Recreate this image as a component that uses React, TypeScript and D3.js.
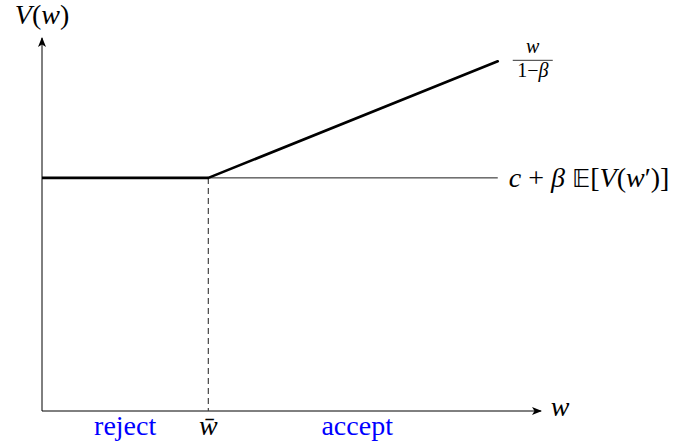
import React from "react";
import * as d3 from "d3";

// Reservation-wage value function: flat at the continuation value, then w/(1-β)
const W_MAX = 3;          // right end of the w axis
const V_MAX = 3.2;        // top of the V axis
const W_BAR = 1;          // reservation wage
const CONT_VALUE = 2;     // c + β E[V(w')]
const W_END = 2.74;       // last wage drawn
const V_END = 3;          // value at the last wage
const regionLabels = [
  { text: "reject", w: 0.5 },
  { text: "accept", w: 1.895 },
];

const WIDTH = 676;
const HEIGHT = 448;
const TIMES = "Liberation Serif, serif";
const FS = 28;

export default function App() {
  const x = d3.scaleLinear().domain([0, W_MAX]).range([42, 541]);
  const y = d3.scaleLinear().domain([0, V_MAX]).range([411, 38]);

  const line = d3
    .line<[number, number]>()
    .x((d) => x(d[0]))
    .y((d) => y(d[1]));

  const flatPart: [number, number][] = [
    [0, CONT_VALUE],
    [W_BAR, CONT_VALUE],
  ];
  const risingPart: [number, number][] = [
    [W_BAR, CONT_VALUE],
    [W_END, V_END],
  ];
  const contLine: [number, number][] = [
    [W_BAR, CONT_VALUE],
    [W_END, CONT_VALUE],
  ];

  const x0 = x(0);
  const y0 = y(0);
  const labelBase = y0 + 24;

  return (
    <svg
      width={WIDTH}
      height={HEIGHT}
      style={{ position: "absolute", left: 0, top: 0, background: "#fff", fontFamily: TIMES }}
    >
      <defs>
        <marker
          id="stealth"
          viewBox="0 0 10 10"
          refX="9"
          refY="5"
          markerWidth="10"
          markerHeight="10"
          markerUnits="userSpaceOnUse"
          orient="auto"
        >
          <path d="M0,1 L10,5 L0,9 L2.5,5 Z" fill="#000" />
        </marker>
      </defs>

      {/* axes */}
      <line
        x1={x0}
        y1={y0}
        x2={x0}
        y2={y(V_MAX)}
        stroke="#000"
        strokeWidth={1}
        markerEnd="url(#stealth)"
      />
      <line
        x1={x0}
        y1={y0}
        x2={x(W_MAX)}
        y2={y0}
        stroke="#000"
        strokeWidth={1}
        markerEnd="url(#stealth)"
      />

      {/* continuation value extended to the right */}
      <path d={line(contLine) ?? ""} fill="none" stroke="#000" strokeWidth={0.9} />

      {/* reservation wage marker */}
      <line
        x1={x(W_BAR)}
        y1={y(CONT_VALUE)}
        x2={x(W_BAR)}
        y2={y0}
        stroke="#444"
        strokeWidth={1.2}
        strokeDasharray="6,4"
      />

      {/* value function */}
      <path d={line(flatPart) ?? ""} fill="none" stroke="#000" strokeWidth={2.6} />
      <path
        d={line(risingPart) ?? ""}
        fill="none"
        stroke="#000"
        strokeWidth={2.6}
        strokeLinecap="round"
      />

      {/* axis labels */}
      <text x={x0} y={24} textAnchor="middle" style={{ fontSize: FS }}>
        <tspan fontStyle="italic">V</tspan>(<tspan fontStyle="italic">w</tspan>)
      </text>
      <text x={x(W_MAX) + 19} y={y0 + 5} textAnchor="middle" fontStyle="italic" style={{ fontSize: FS }}>
        w
      </text>

      {/* w/(1-β) */}
      <g transform={`translate(${x(W_END) + 35},0)`}>
        <text x={0} y={y(V_END) - 8} textAnchor="middle" fontStyle="italic" style={{ fontSize: 20 }}>
          w
        </text>
        <line x1={-20} x2={20} y1={y(V_END) - 1} y2={y(V_END) - 1} stroke="#000" strokeWidth={0.8} />
        <text x={0} y={y(V_END) + 16} textAnchor="middle" style={{ fontSize: 20 }}>
          1−<tspan fontStyle="italic">β</tspan>
        </text>
      </g>

      {/* c + β E[V(w')] */}
      <text x={x(W_END) + 11} y={y(CONT_VALUE) + 9} style={{ fontSize: FS }}>
        <tspan fontStyle="italic">c</tspan> + <tspan fontStyle="italic">β</tspan>{" "}
        <tspan style={{ fontFamily: "DejaVu Sans, DejaVu Serif, serif", fontSize: 25 }}>𝔼</tspan>[
        <tspan fontStyle="italic">V</tspan>(<tspan fontStyle="italic">w</tspan>′)]
      </text>

      {/* region labels */}
      {regionLabels.map((r) => (
        <text
          key={r.text}
          x={x(r.w)}
          y={labelBase}
          textAnchor="middle"
          fill="#0000ff"
          style={{ fontSize: FS }}
        >
          {r.text}
        </text>
      ))}
      <text x={x(W_BAR)} y={labelBase} textAnchor="middle" fontStyle="italic" style={{ fontSize: FS }}>
        w̄
      </text>
    </svg>
  );
}
